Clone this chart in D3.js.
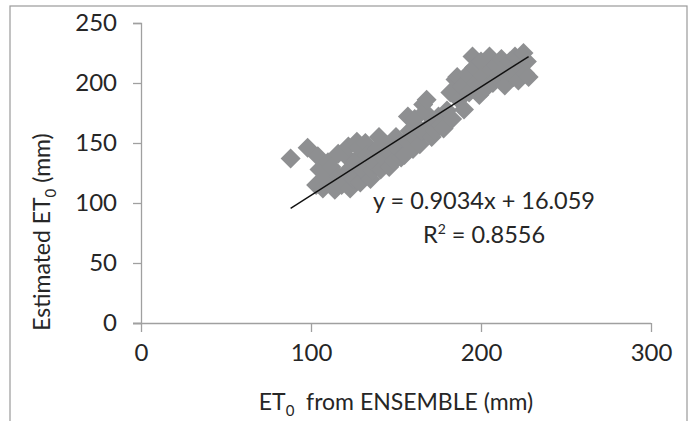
<!DOCTYPE html>
<html><head><meta charset="utf-8">
<script src="https://cdn.jsdelivr.net/npm/d3@7"></script>
<style>
html,body{margin:0;padding:0;background:#fff;}
svg text{font-family:Lato,"Open Sans",sans-serif;fill:#262626;}
</style></head>
<body>
<svg id="chart" width="689" height="421"></svg>
<script>
// Data
const ensembleET0 = [88,98,103,104,105,107,110,110,112,114,116,116,118,120,121,122,123,125,126,127,128,129,130,132,133,135,136,137,139,140,141,143,145,146,147,149,150,151,153,155,156,157,158,160,161,162,164,165,166,167,168,170,171,173,175,176,178,180,182,183,185,186,187,189,190,192,193,195,196,197,199,200,201,203,205,206,207,209,211,212,214,215,217,219,220,222,223,225,226,227,228];
const estimatedET0 = [137,146,115,139,128,112,120,134,130,111,122,141,115,140,126,147,112,120,135,151,146,117,128,150,140,120,127,133,145,155,128,137,148,130,141,135,155,145,138,140,152,172,160,145,170,153,149,160,182,176,186,165,155,160,172,165,162,177,192,170,203,205,186,197,178,207,192,222,213,200,190,218,206,196,222,211,200,215,206,220,198,212,218,205,222,202,213,225,208,218,205];
const xTicks = [0,100,200,300];
const yTicks = [0,50,100,150,200,250];
const slope = 0.9034, intercept = 16.059;
const eqLabel = "y = 0.9034x + 16.059";
const r2Value = "0.8556";

const svg = d3.select("#chart");
// frame
svg.append("rect").attr("x",10).attr("y",6).attr("width",677).attr("height",430)
  .attr("fill","none").attr("stroke","#9a9a9a").attr("stroke-width",1.2);

const x = d3.scaleLinear().domain([0,300]).range([141,651]);
const y = d3.scaleLinear().domain([0,250]).range([323,23]);

const axisColor = "#a0a0a0";
// y axis
const gy = svg.append("g").attr("transform","translate(141,0)")
  .call(d3.axisLeft(y).tickValues(yTicks).tickSize(8).tickPadding(16).tickFormat(d3.format("d")));
// x axis
const gx = svg.append("g").attr("transform","translate(0,323)")
  .call(d3.axisBottom(x).tickValues(xTicks).tickSize(9).tickPadding(12).tickFormat(d3.format("d")));
[gx,gy].forEach(g=>{
  g.select(".domain").attr("stroke",axisColor).attr("stroke-width",1.3);
  g.selectAll(".tick line").attr("stroke",axisColor).attr("stroke-width",1.3);
  g.selectAll(".tick text").attr("font-size",24).attr("fill","#262626").attr("font-family","Lato");
});
gx.select(".domain").attr("d","M133,0.5H651");

// points
const pts = ensembleET0.map((v,i)=>[v,estimatedET0[i]]);
svg.append("g").selectAll("path").data(pts).join("path")
  .attr("d", d3.symbol(d3.symbolSquare, 200))
  .attr("transform", d=>`translate(${x(d[0])},${y(d[1])}) rotate(45)`)
  .attr("fill","#8e8f91");

// trendline
const xmin = d3.min(ensembleET0), xmax = d3.max(ensembleET0);
svg.append("line")
  .attr("x1",x(xmin)).attr("y1",y(slope*xmin+intercept))
  .attr("x2",x(xmax)).attr("y2",y(slope*xmax+intercept))
  .attr("stroke","#111").attr("stroke-width",1.4);

// equation
const eq = svg.append("text").attr("x",484).attr("y",209).attr("text-anchor","middle").attr("font-size",23.5);
eq.text(eqLabel);
const r2 = svg.append("text").attr("x",484).attr("y",243).attr("text-anchor","middle").attr("font-size",23.5);
r2.append("tspan").text("R");
r2.append("tspan").attr("font-size",14).attr("dy",-9).text("2");
r2.append("tspan").attr("dy",9).text(" = " + r2Value);

// x title
const xt = svg.append("text").attr("x",396).attr("y",410).attr("text-anchor","middle").attr("font-size",23);
xt.append("tspan").text("ET");
xt.append("tspan").attr("font-size",15).attr("dy",6).text("0");
xt.append("tspan").attr("dy",-6).text("\u00a0 from ENSEMBLE (mm)");

// y title
const yt = svg.append("text").attr("transform","translate(50,232) rotate(-90)").attr("text-anchor","middle").attr("font-size",23);
yt.append("tspan").text("Estimated ET");
yt.append("tspan").attr("font-size",15).attr("dy",6).text("0");
yt.append("tspan").attr("dy",-6).text(" (mm)");
</script>
</body></html>
